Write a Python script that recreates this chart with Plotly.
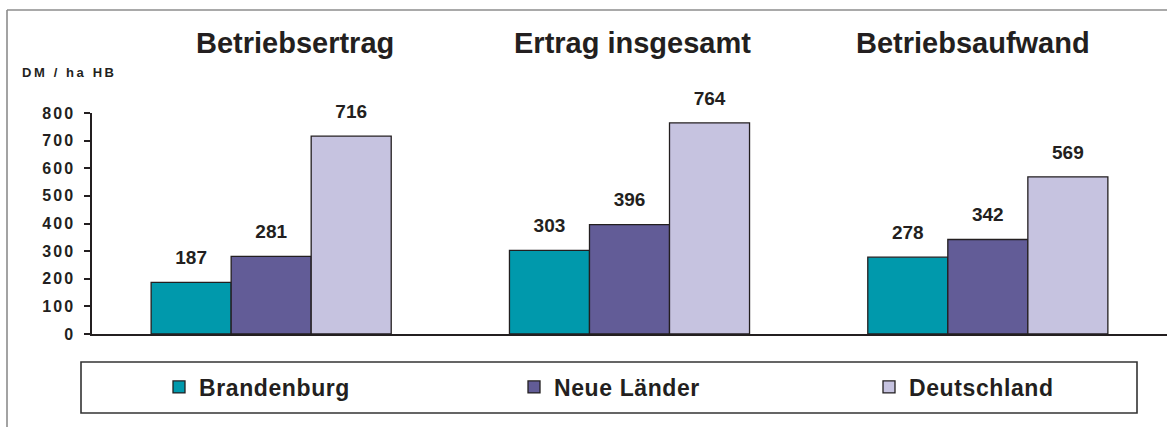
import plotly.graph_objects as go

categories = ["Betriebsertrag", "Ertrag insgesamt", "Betriebsaufwand"]
series_names = ["Brandenburg", "Neue Länder", "Deutschland"]
brandenburg = [187, 303, 278]
neue_laender = [281, 396, 342]
deutschland = [716, 764, 569]
y_ticks = [0, 100, 200, 300, 400, 500, 600, 700, 800]

colors = ["#0099AC", "#625C97", "#C6C3E0"]
TXT = "#231F20"
W, H = 1167, 427
L, R, T, B = 92, 0, 113, 93
PW, PH = W - L - R, H - T - B


def px(x):
    return (x - L) / PW


def py(y):
    return (H - B - y) / PH


def spaced(s, sp):
    return f"<span style='letter-spacing:{sp}px'>{s}</span>"


fig = go.Figure()
values = [brandenburg, neue_laender, deutschland]
legend_ids = ["legend", "legend2", "legend3"]
for name, vals, col, lg in zip(series_names, values, colors, legend_ids):
    fig.add_trace(go.Bar(
        name=spaced(name, 0.6), x=categories, y=vals, marker_color=col,
        marker_line_color="#231F20", marker_line_width=1.3,
        offsetgroup=name, alignmentgroup="a", legend=lg,
    ))
for name, vals in zip(series_names, values):
    fig.add_trace(go.Scatter(
        x=categories, y=vals, mode="markers+text", text=[str(v) for v in vals],
        textposition="top center", showlegend=False, hoverinfo="skip",
        marker=dict(size=20, opacity=0), offsetgroup=name, alignmentgroup="a",
        textfont=dict(family="Liberation Sans, Arial", size=19, color=TXT, weight="bold"),
        cliponaxis=False,
    ))

legend_font = dict(family="Liberation Sans, Arial", size=23, color=TXT, weight="bold")
legend_common = dict(
    orientation="h", y=py(387), xanchor="left", yanchor="middle", itemwidth=30,
    font=legend_font, bgcolor="rgba(0,0,0,0)", borderwidth=0,
)
legend_sym_px = [175, 530, 885]

fig.update_layout(
    width=W, height=H,
    margin=dict(l=L, r=R, t=T, b=B),
    barmode="group", bargap=0.33, bargroupgap=0,
    scattermode="group", scattergap=0.33,
    plot_bgcolor="white", paper_bgcolor="white",
    showlegend=True,
    legend=dict(x=px(legend_sym_px[0] - 16), **legend_common),
    legend2=dict(x=px(legend_sym_px[1] - 16), **legend_common),
    legend3=dict(x=px(legend_sym_px[2] - 16), **legend_common),
    xaxis=dict(
        showticklabels=False, showline=True, linecolor="#231F20", linewidth=1.5,
        ticks="", showgrid=False, zeroline=False,
    ),
    yaxis=dict(
        range=[0, 800], tickvals=y_ticks, ticktext=[spaced(str(v), 2) for v in y_ticks],
        showline=True, linecolor="#231F20",
        linewidth=1.5, ticks="outside", ticklen=6, tickcolor="#231F20", tickwidth=1.5,
        showgrid=False, zeroline=False, ticklabelstandoff=6,
        tickfont=dict(family="Liberation Sans, Arial", size=16, color=TXT, weight="bold"),
    ),
    font=dict(family="Liberation Sans, Arial", color=TXT),
)

title_px = [295, 632, 973]
for cat, tx in zip(categories, title_px):
    fig.add_annotation(
        text=cat, x=px(tx), y=py(43), xref="paper", yref="paper",
        xanchor="center", yanchor="middle", showarrow=False,
        font=dict(family="Liberation Sans, Arial", size=29, color=TXT, weight="bold"),
    )

fig.add_annotation(
    text=spaced("DM / ha HB", 2.6), x=px(20), y=py(72), xref="paper", yref="paper",
    xanchor="left", yanchor="middle", showarrow=False,
    font=dict(family="Liberation Sans, Arial", size=13, color=TXT, weight="bold"),
)

# legend frame
fig.add_shape(type="rect", xref="paper", yref="paper",
              x0=px(81), x1=px(1137), y0=py(413), y1=py(362),
              line=dict(color="#333333", width=1.6), layer="below")
# outer frame (top and left edges)
fig.add_shape(type="line", xref="paper", yref="paper",
              x0=px(7), x1=px(1170), y0=py(10), y1=py(10),
              line=dict(color="#8C8C8C", width=1.6))
fig.add_shape(type="line", xref="paper", yref="paper",
              x0=px(7), x1=px(7), y0=py(10), y1=py(430),
              line=dict(color="#8C8C8C", width=1.6))

fig.write_html(
    "out.html",
    config={"displayModeBar": False},
    post_script="document.body.style.margin='0';document.body.style.overflow='hidden';",
)
